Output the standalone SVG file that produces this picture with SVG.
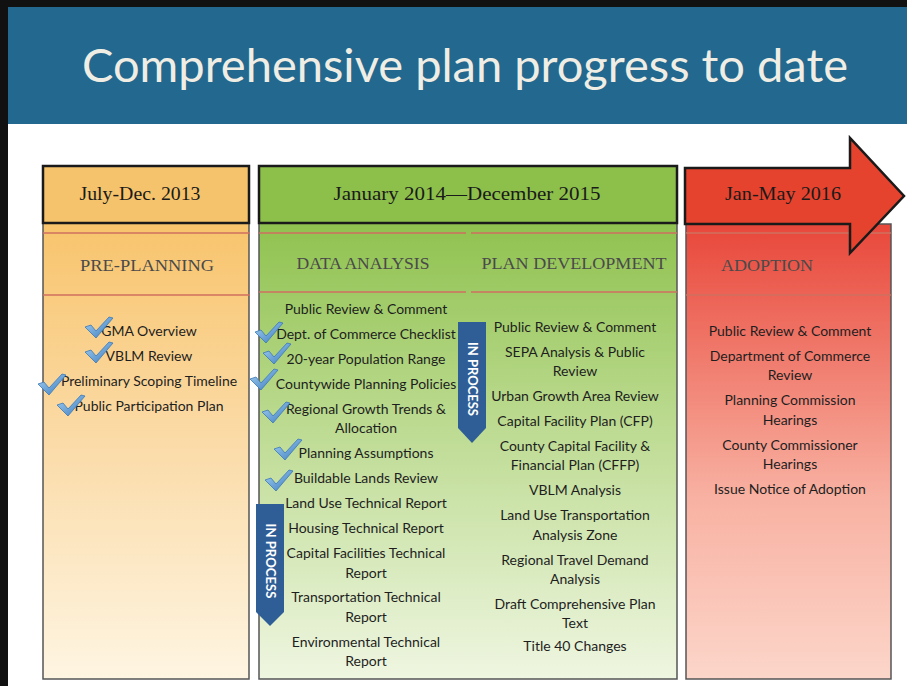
<svg xmlns="http://www.w3.org/2000/svg" xmlns:xlink="http://www.w3.org/1999/xlink" width="907" height="686" viewBox="0 0 907 686">
<style>
.t{font-family:Lato,"Open Sans","Liberation Sans",sans-serif;font-size:14px;fill:#1e1e1e;text-anchor:middle}
.h{font-family:"Liberation Serif","DejaVu Serif",serif;font-size:19px;fill:#1a1a1a;text-anchor:middle}
.s{font-family:"Liberation Serif","DejaVu Serif",serif;font-size:17px;fill:#4a4a4a;text-anchor:middle}
.hb{stroke:#1a1a1a;stroke-width:2.5}
.bd{stroke:#555;stroke-width:1.5}
.rl{stroke:#cf6f5f;stroke-width:1.5}
.ip{fill:#2f5e97}
.ipt{font-family:Lato,"Liberation Sans",sans-serif;font-size:13px;font-weight:bold;fill:#ffffff;text-anchor:middle}
</style>
<defs>
<linearGradient id="g1" x1="0" y1="0" x2="0" y2="1">
<stop offset="0" stop-color="#f8c46c"/><stop offset="0.5" stop-color="#fbdcaa"/><stop offset="1" stop-color="#fef5e2"/>
</linearGradient>
<linearGradient id="g2" x1="0" y1="0" x2="0" y2="1">
<stop offset="0" stop-color="#8fc24f"/><stop offset="0.45" stop-color="#bddb92"/><stop offset="1" stop-color="#eff6e1"/>
</linearGradient>
<linearGradient id="g3" x1="0" y1="0" x2="0" y2="1">
<stop offset="0" stop-color="#e8473a"/><stop offset="0.6" stop-color="#f8b1a2"/><stop offset="1" stop-color="#fcd6ca"/>
</linearGradient>
<linearGradient id="gc" x1="0" y1="0" x2="1" y2="1">
<stop offset="0" stop-color="#a7d3f3"/><stop offset="1" stop-color="#3778bd"/>
</linearGradient>
<path id="chk" d="M0,10 L6,8 L11,14 L24,0 L28,1 L11,21 Z" fill="url(#gc)" stroke="#3c79b8" stroke-width="0.8" stroke-linejoin="round"/>
</defs>

<rect x="0" y="0" width="907" height="686" fill="#111"/>
<rect x="8" y="7" width="899" height="679" fill="#ffffff"/>
<rect x="8" y="7" width="899" height="117" fill="#22688f"/>
<text x="465" y="82" font-family="Lato,'Open Sans',sans-serif" font-size="47" fill="#f0eee4" text-anchor="middle" textLength="766" lengthAdjust="spacingAndGlyphs">Comprehensive plan progress to date</text>

<g id="col1">
<rect x="43" y="223" width="206" height="456" fill="url(#g1)" class="bd"/>
<rect x="43" y="166" width="206" height="57" fill="#f5c36b" class="hb"/>
<line x1="43" y1="233" x2="250" y2="233" class="rl"/>
<line x1="43" y1="295" x2="250" y2="295" class="rl"/>
<text x="140" y="200" class="h" textLength="121" lengthAdjust="spacingAndGlyphs">July-Dec. 2013</text>
<text x="147" y="271" class="s" textLength="134" lengthAdjust="spacingAndGlyphs">PRE-PLANNING</text>
<text x="149" y="336" class="t">GMA Overview</text>
<text x="149" y="361" class="t">VBLM Review</text>
<text x="149" y="386" class="t">Preliminary Scoping Timeline</text>
<text x="149" y="411" class="t">Public Participation Plan</text>
<use xlink:href="#chk" x="85" y="317"/>
<use xlink:href="#chk" x="85" y="342"/>
<use xlink:href="#chk" x="38" y="374"/>
<use xlink:href="#chk" x="57" y="395"/>
</g>

<g id="col2">
<rect x="259" y="223" width="418" height="456" fill="url(#g2)" class="bd"/>
<rect x="259" y="166" width="418" height="57" fill="#8dc04b" class="hb"/>
<line x1="259" y1="233" x2="466" y2="233" class="rl"/>
<line x1="471" y1="233" x2="677" y2="233" class="rl"/>
<line x1="259" y1="292" x2="466" y2="292" class="rl"/>
<line x1="471" y1="292" x2="677" y2="292" class="rl"/>
<text x="467" y="200" class="h" textLength="267" lengthAdjust="spacingAndGlyphs">January 2014—December 2015</text>
<text x="363" y="269" class="s" textLength="133" lengthAdjust="spacingAndGlyphs">DATA ANALYSIS</text>
<text x="574" y="269" class="s" textLength="185" lengthAdjust="spacingAndGlyphs">PLAN DEVELOPMENT</text>
</g>

<g id="data-analysis">
<text x="366" y="314" class="t">Public Review &amp; Comment</text>
<text x="366" y="339" class="t">Dept. of Commerce Checklist</text>
<text x="366" y="364" class="t">20-year Population Range</text>
<text x="366" y="389" class="t">Countywide Planning Policies</text>
<text x="366" y="414" class="t">Regional Growth Trends &amp;</text>
<text x="366" y="433" class="t">Allocation</text>
<text x="366" y="458" class="t">Planning Assumptions</text>
<text x="366" y="483" class="t">Buildable Lands Review</text>
<text x="366" y="508" class="t">Land Use Technical Report</text>
<text x="366" y="533" class="t">Housing Technical Report</text>
<text x="366" y="558" class="t">Capital Facilities Technical</text>
<text x="366" y="578" class="t">Report</text>
<text x="366" y="602" class="t">Transportation Technical</text>
<text x="366" y="622" class="t">Report</text>
<text x="366" y="647" class="t">Environmental Technical</text>
<text x="366" y="666" class="t">Report</text>
<use xlink:href="#chk" x="255" y="322"/>
<use xlink:href="#chk" x="263" y="343"/>
<use xlink:href="#chk" x="250" y="369"/>
<use xlink:href="#chk" x="262" y="402"/>
<use xlink:href="#chk" x="274" y="439"/>
<use xlink:href="#chk" x="265" y="470"/>
</g>

<g id="in-process-1">
<polygon points="256,504 284,504 284,612 270,626 256,612" class="ip"/>
<text transform="translate(270,561) rotate(90)" y="4.5" class="ipt" textLength="75" lengthAdjust="spacingAndGlyphs">IN PROCESS</text>
</g>

<g id="plan-development">
<text x="575" y="332" class="t">Public Review &amp; Comment</text>
<text x="575" y="357" class="t">SEPA Analysis &amp; Public</text>
<text x="575" y="376" class="t">Review</text>
<text x="575" y="401" class="t">Urban Growth Area Review</text>
<text x="575" y="426" class="t">Capital Facility Plan (CFP)</text>
<text x="575" y="451" class="t">County Capital Facility &amp;</text>
<text x="575" y="470" class="t">Financial Plan (CFFP)</text>
<text x="575" y="495" class="t">VBLM Analysis</text>
<text x="575" y="520" class="t">Land Use Transportation</text>
<text x="575" y="540" class="t">Analysis Zone</text>
<text x="575" y="565" class="t">Regional Travel Demand</text>
<text x="575" y="584" class="t">Analysis</text>
<text x="575" y="609" class="t">Draft Comprehensive Plan</text>
<text x="575" y="628" class="t">Text</text>
<text x="575" y="651" class="t">Title 40 Changes</text>
</g>

<g id="in-process-2">
<polygon points="458,322 486,322 486,428 472,443 458,428" class="ip"/>
<text transform="translate(472,379) rotate(90)" y="4.5" class="ipt" textLength="74" lengthAdjust="spacingAndGlyphs">IN PROCESS</text>
</g>

<g id="col3">
<rect x="686" y="224" width="205" height="455" fill="url(#g3)" class="bd"/>
<line x1="686" y1="233" x2="891" y2="233" class="rl" stroke="#c9564a"/>
<line x1="686" y1="295" x2="891" y2="295" class="rl" stroke="#c9564a"/>
<polygon points="685,168 850,168 850,138 904,196 850,253 850,224 685,224" fill="#e5432e" stroke="#1a1a1a" stroke-width="2.5" stroke-linejoin="miter"/>
<text x="783" y="200" class="h" textLength="116" lengthAdjust="spacingAndGlyphs">Jan-May 2016</text>
<text x="767" y="271" class="s" textLength="92" lengthAdjust="spacingAndGlyphs">ADOPTION</text>
<text x="790" y="336" class="t">Public Review &amp; Comment</text>
<text x="790" y="361" class="t">Department of Commerce</text>
<text x="790" y="380" class="t">Review</text>
<text x="790" y="405" class="t">Planning Commission</text>
<text x="790" y="425" class="t">Hearings</text>
<text x="790" y="450" class="t">County Commissioner</text>
<text x="790" y="469" class="t">Hearings</text>
<text x="790" y="494" class="t">Issue Notice of Adoption</text>
</g>
</svg>
